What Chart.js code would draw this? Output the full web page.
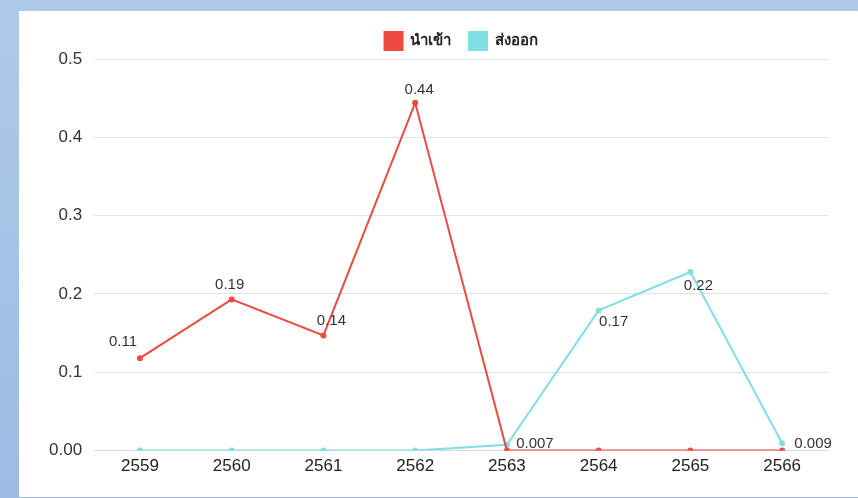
<!DOCTYPE html>
<html>
<head>
<meta charset="utf-8">
<script src="https://cdn.jsdelivr.net/npm/chart.js@4"></script>
<style>
    html, body {
        margin: 0;
        padding: 0;
        width: 858px;
        height: 498px;
        overflow: hidden;
        background: linear-gradient(180deg, #aecae8 0%, #9cbce4 100%);
    }
    .card {
        position: absolute;
        left: 19px;
        top: 11px;
        width: 839px;
        height: 486px;
        background: #ffffff;
    }
</style>
</head>
<body>
<div class="card">
    <canvas id="trade-chart" width="839" height="486"></canvas>
</div>
<script>
const years = ['2559', '2560', '2561', '2562', '2563', '2564', '2565', '2566'];
const importValues = [0.118, 0.193, 0.147, 0.444, 0, 0, 0, 0];
const exportValues = [0, 0, 0, 0, 0.0075, 0.179, 0.228, 0.0095];
const yTicks = [0, 0.1, 0.2, 0.3, 0.4, 0.5];

// truncate like the original labels (0.118 -> 0.11, 0.0075 -> 0.007)
function formatLabel(v) {
    const digits = v < 0.01 ? 3 : 2;
    const f = Math.pow(10, digits);
    return (Math.floor(v * f + 1e-9) / f).toFixed(digits);
}

// label offsets from the point, per dataset / per point [dx, dy] (text centre)
const labelOffsets = [
    [[-17, -16], [-2, -15], [8, -15], [4, -13]],
    [null, null, null, null, [28, -1], [15, 11], [8, 14], [31, 1]]
];

const valueLabels = {
    id: 'valueLabels',
    afterDatasetsDraw(chart) {
        const ctx = chart.ctx;
        ctx.save();
        ctx.font = '15px "Liberation Sans", Arial, sans-serif';
        ctx.fillStyle = '#333333';
        ctx.textAlign = 'center';
        ctx.textBaseline = 'middle';
        chart.data.datasets.forEach((ds, di) => {
            const meta = chart.getDatasetMeta(di);
            meta.data.forEach((pt, i) => {
                const v = ds.data[i];
                if (!v) return;
                const off = (labelOffsets[di] && labelOffsets[di][i]) || [0, -15];
                ctx.fillText(formatLabel(v), pt.x + off[0], pt.y + off[1]);
            });
        });
        ctx.restore();
    }
};

// keep wide spacing between legend items without a tall legend box
const legendHeight = {
    id: 'legendHeight',
    beforeInit(chart) {
        const origFit = chart.legend.fit;
        chart.legend.fit = function () {
            origFit.call(this);
            this.height -= 1;
        };
    }
};

new Chart(document.getElementById('trade-chart'), {
    type: 'line',
    data: {
        labels: years,
        datasets: [{
            label: 'นำเข้า',
            data: importValues,
            borderColor: '#ee4a40',
            backgroundColor: '#ee4a40',
            borderWidth: 2,
            pointRadius: 2,
            tension: 0
        }, {
            label: 'ส่งออก',
            data: exportValues,
            borderColor: '#80dfe5',
            backgroundColor: '#80dfe5',
            borderWidth: 2,
            pointRadius: 2,
            tension: 0
        }]
    },
    options: {
        responsive: false,
        animation: false,
        layout: {
            padding: { left: 18, right: 30, top: 3, bottom: 22 }
        },
        plugins: {
            legend: {
                fullSize: false,
                labels: {
                    boxWidth: 18,
                    boxHeight: 18,
                    padding: 18,
                    color: '#222222',
                    font: { size: 15, weight: 'bold', family: '"Noto Sans", sans-serif' }
                }
            },
            tooltip: { enabled: false }
        },
        scales: {
            x: {
                offset: true,
                grid: { display: false },
                border: { color: '#d9d9d9' },
                ticks: {
                    padding: -2,
                    color: '#222222',
                    font: { size: 17, family: '"Liberation Sans", Arial, sans-serif' }
                }
            },
            y: {
                min: 0,
                max: 0.5,
                afterBuildTicks: axis => { axis.ticks = yTicks.map(v => ({ value: v })); },
                border: { display: false },
                grid: { color: '#e3e3e3', drawTicks: false },
                ticks: {
                    padding: 12,
                    color: '#333333',
                    font: { size: 17, family: '"Liberation Sans", Arial, sans-serif' },
                    callback: v => v === 0 ? '0.00' : v
                }
            }
        }
    },
    plugins: [valueLabels, legendHeight]
});
</script>
</body>
</html>
